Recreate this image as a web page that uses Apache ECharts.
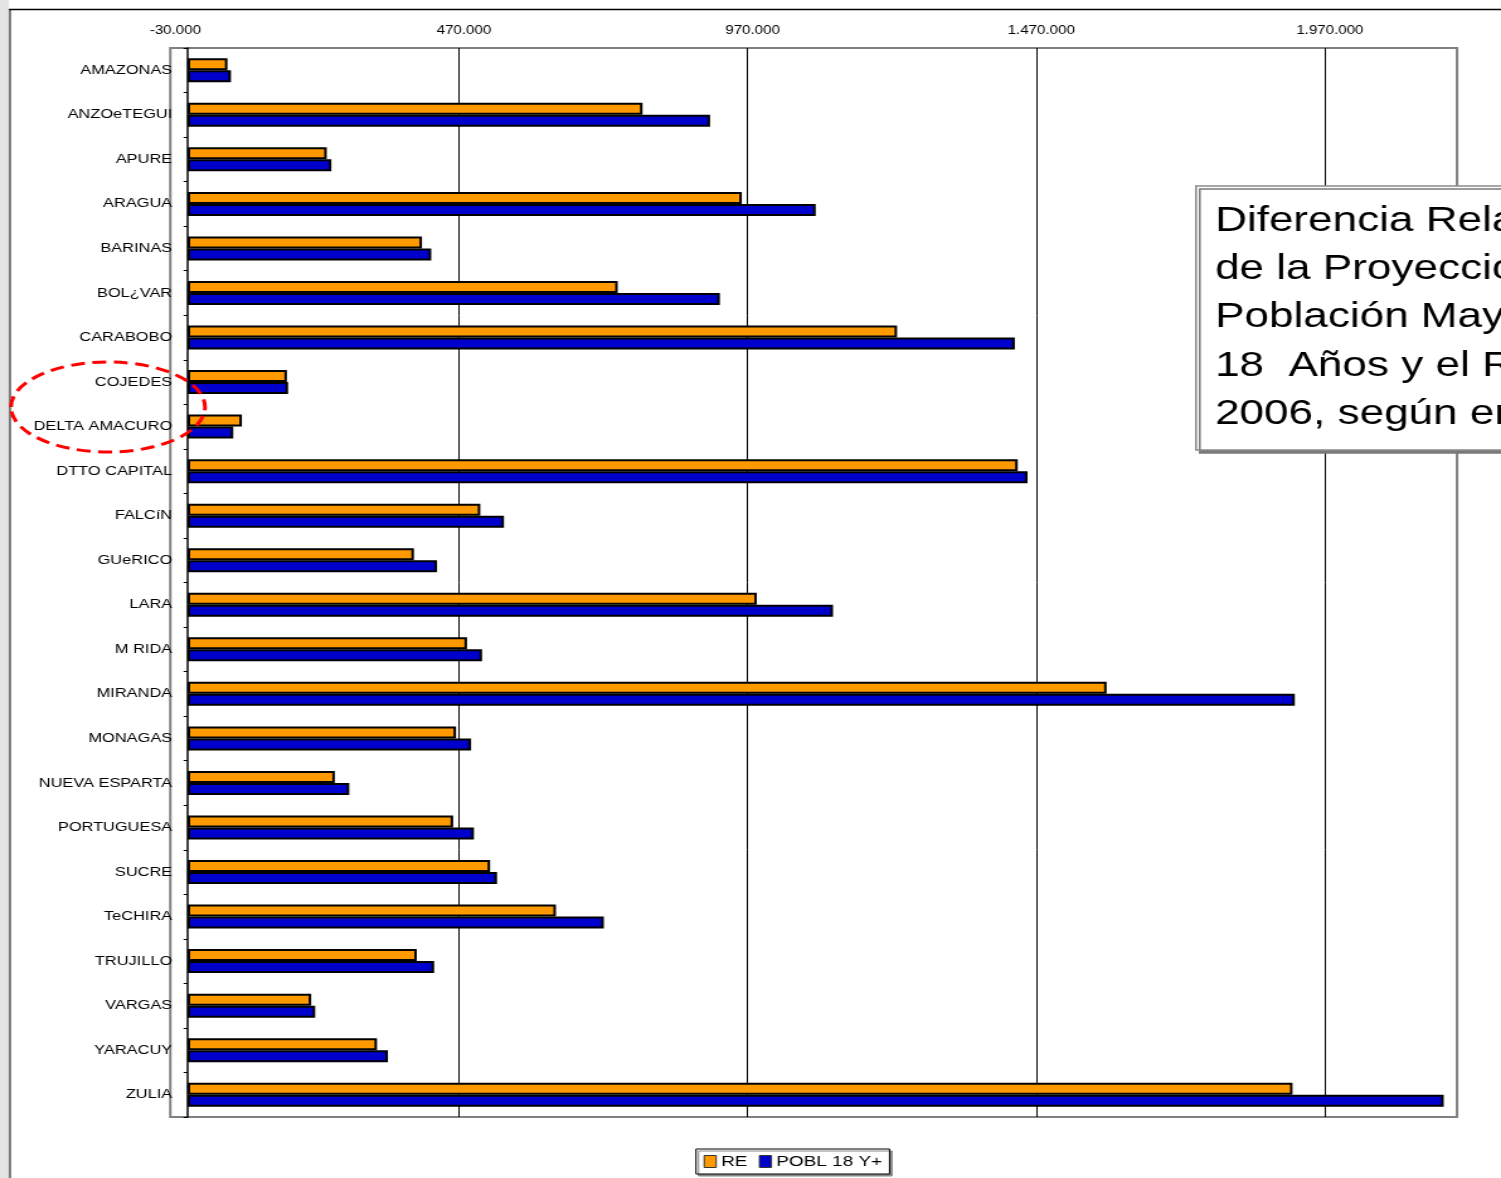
<!DOCTYPE html>
<html>
<head>
<meta charset="utf-8">
<script src="https://cdn.jsdelivr.net/npm/echarts@6/dist/echarts.min.js"></script>
<style>
html,body{margin:0;padding:0;background:#fff;overflow:hidden;width:1501px;height:1178px;}
#c{position:absolute;left:0;top:0;width:1192px;height:1178px;transform:scaleX(1.25923);transform-origin:0 0;}
</style>
</head>
<body>
<div id="c"></div>
<script>
// ---- data ----
const categories = ["AMAZONAS","ANZOeTEGUI","APURE","ARAGUA","BARINAS","BOL¿VAR","CARABOBO","COJEDES","DELTA AMACURO","DTTO CAPITAL","FALCíN","GUeRICO","LARA","M RIDA","MIRANDA","MONAGAS","NUEVA ESPARTA","PORTUGUESA","SUCRE","TeCHIRA","TRUJILLO","VARGAS","YARACUY","ZULIA"];
const reValues = [69000, 788000, 241000, 960000, 406000, 745000, 1229000, 172000, 94000, 1438000, 507000, 392000, 986000, 484000, 1592000, 465000, 255000, 460000, 524000, 638000, 397000, 214000, 328000, 1914000];
const poblValues = [75000, 905000, 249000, 1088000, 422000, 922000, 1433000, 174000, 79000, 1455000, 548000, 432000, 1118000, 510000, 1918000, 491000, 280000, 496000, 536000, 721000, 427000, 221000, 347000, 2176000];
const seriesNames = ["RE", "POBL 18 Y+"];
const tickValues = [-30000, 470000, 970000, 1470000, 1970000];
const noteLines = ["Diferencia Relativa", "de la Proyección de", "Población Mayor de", "18  Años y el RE", "2006, según entidad"];

const S = 1501 / 1192; // horizontal stretch of the reference
const X = v => v / S;  // reference px -> chart px

function fmt(v) {
  const s = String(Math.abs(Math.round(v))).replace(/\B(?=(\d{3})+(?!\d))/g, '.');
  return (v < 0 ? '-' : '') + s;
}

const chart = echarts.init(document.getElementById('c'), null, {renderer: 'canvas'});
const FONT = 'Liberation Sans, Arial, sans-serif';

chart.setOption({
  animation: false,
  backgroundColor: '#fff',
  grid: {
    show: true, left: X(170.3), top: 48, width: X(1457 - 170.3), height: 1069,
    borderColor: '#808080', borderWidth: 2, backgroundColor: 'transparent', containLabel: false
  },
  xAxis: {
    type: 'value', position: 'top',
    min: tickValues[0], max: 2199000, interval: tickValues[1] - tickValues[0],
    axisLine: {show: false}, axisTick: {show: false},
    splitLine: {show: true, showMinLine: false, showMaxLine: false, lineStyle: {color: '#000', width: 1}},
    axisLabel: {formatter: fmt, fontSize: 12, color: '#000', fontFamily: FONT, margin: 11,
      showMaxLabel: false, padding: [0, 0, 0, 8]}
  },
  yAxis: {
    type: 'category', data: categories, inverse: true,
    axisLine: {show: true, onZero: true, lineStyle: {color: '#000', width: 1.5}},
    axisTick: {show: true, length: 3.2, lineStyle: {color: '#000', width: 1}},
    axisLabel: {fontSize: 13, color: '#000', fontFamily: FONT, margin: -1.5},
    splitLine: {show: false}
  },
  legend: {
    data: seriesNames, left: X(696), top: 1149, orient: 'horizontal',
    icon: 'rect', itemWidth: X(12), itemHeight: 12, itemGap: 9,
    padding: [5, 6], borderColor: '#000', borderWidth: 1, backgroundColor: '#fff',
    shadowColor: '#8a8a8a', shadowOffsetX: 2, shadowOffsetY: 2, shadowBlur: 0,
    itemStyle: {borderColor: '#333', borderWidth: 1},
    textStyle: {fontSize: 15, color: '#000', fontFamily: FONT, padding: [0, 0, 0, -1]}
  },
  series: [
    {name: seriesNames[0], type: 'bar', data: reValues, barWidth: 12, barGap: '0%',
      itemStyle: {color: '#FF9900', borderColor: '#000', borderWidth: 2}},
    {name: seriesNames[1], type: 'bar', data: poblValues, barWidth: 12, barGap: '0%',
      itemStyle: {color: '#0000CC', borderColor: '#000', borderWidth: 2}}
  ],
  graphic: [
    {type: 'rect', z: 50, silent: true, shape: {x: 0, y: 0, width: X(9), height: 1178},
      style: {fill: '#e4e4e4'}},
    {type: 'line', z: 50, silent: true, shape: {x1: X(10), y1: 9, x2: X(10), y2: 1178},
      style: {stroke: '#7a7a7a', lineWidth: 2}},
    {type: 'line', z: 50, silent: true, shape: {x1: X(9), y1: 9.5, x2: 1192, y2: 9.5},
      style: {stroke: '#000', lineWidth: 1.5}},
    {type: 'rect', z: 60, silent: true, shape: {x: X(1196), y: 186, width: 400, height: 264},
      style: {fill: '#fff', stroke: '#8a8a8a', lineWidth: 1.5, shadowColor: '#7a7a7a', shadowOffsetX: 3, shadowOffsetY: 3, shadowBlur: 0}},
    {type: 'text', z: 61, silent: true, x: X(1215), y: 197,
      style: {text: noteLines.join('\n'), fontSize: 35, fontFamily: FONT, lineHeight: 48.3, fill: '#000', verticalAlign: 'top'}},
    {type: 'ellipse', z: 70, silent: true, shape: {cx: X(108), cy: 407, rx: X(97), ry: 45},
      style: {fill: 'none', stroke: '#FF0000', lineWidth: 3, lineDash: [11, 6]}}
  ]
});
</script>
</body>
</html>
